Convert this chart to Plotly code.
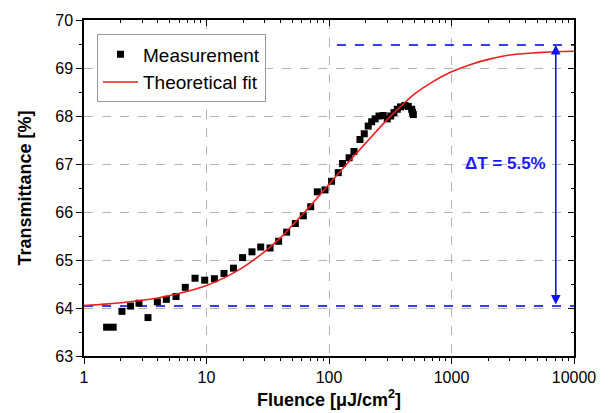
import math
import plotly.graph_objects as go

# Measured data (fluence in uJ/cm^2, transmittance in %)
meas_fluence = [1.53, 1.73, 2.04, 2.40, 2.81, 3.33, 3.97, 4.70, 5.64, 6.71, 8.06, 9.67,
                11.6, 13.9, 16.6, 19.7, 23.5, 27.7, 33.0, 38.8, 45.1, 53.1, 61.7, 70.9,
                80.3, 92.8, 105, 119, 129, 146, 160, 179, 194, 209, 223, 238, 256, 277,
                299, 319, 339, 361, 384, 417, 444, 473, 480, 488]
meas_trans = [63.60, 63.60, 63.93, 64.04, 64.10, 63.80, 64.13, 64.18, 64.24, 64.43, 64.62, 64.58,
              64.61, 64.72, 64.83, 65.05, 65.17, 65.27, 65.25, 65.39, 65.58, 65.76, 65.92, 66.11,
              66.42, 66.46, 66.64, 66.82, 67.01, 67.13, 67.26, 67.51, 67.63, 67.79, 67.88, 67.94, 68.00, 68.01,
              67.94, 68.00, 68.07, 68.14, 68.19, 68.22, 68.20, 68.14, 68.08, 68.03]

# Theoretical fit curve
fit_fluence = [1, 1.5, 2, 3, 4, 5, 7, 10, 15, 20, 30, 40, 50, 70, 100, 150, 200, 300, 400,
               500, 700, 1000, 1500, 2000, 3000, 5000, 7000, 10000]
fit_trans = [64.05, 64.08, 64.11, 64.16, 64.21, 64.26, 64.35, 64.47, 64.67, 64.85, 65.18, 65.46,
             65.72, 66.12, 66.58, 67.09, 67.44, 67.93, 68.24, 68.46, 68.71, 68.92, 69.09, 69.18,
             69.27, 69.32, 69.34, 69.35]

# Reference levels and annotation
upper_x = [116, 10000]
upper_y = [69.48, 69.48]
lower_x = [1, 10000]
lower_y = [64.04, 64.04]
arrow_x = 7100
delta_label = "ΔT = 5.5%"
label_x = 2735
label_y = 67.02

x_tickvals = [1, 10, 100, 1000, 10000]
x_ticktext = ["1", "10", "100", "1000", "10000"]
x_minor_vals = [m * 10 ** d for d in range(4) for m in range(2, 10)]
y_tickvals = [63, 64, 65, 66, 67, 68, 69, 70]

FONT = "Liberation Sans, Arial, sans-serif"
BLUE_DASH = "#3a3aff"
GRID = "#b4b4b4"

fig = go.Figure()

fig.add_trace(go.Scatter(x=upper_x, y=upper_y, mode="lines", showlegend=False,
                         line=dict(color=BLUE_DASH, width=2, dash="dash"), hoverinfo="skip"))
fig.add_trace(go.Scatter(x=lower_x, y=lower_y, mode="lines", showlegend=False,
                         line=dict(color=BLUE_DASH, width=2, dash="dash"), hoverinfo="skip"))

fig.add_trace(go.Scatter(x=meas_fluence, y=meas_trans, mode="markers", name="Measurement",
                         marker=dict(symbol="square", size=7, color="black")))
fig.add_trace(go.Scatter(x=fit_fluence, y=fit_trans, mode="lines", name="Theoretical fit",
                         line=dict(color="#ee1c1c", width=1.6, shape="spline", smoothing=1)))

# dummy trace for mirrored axes
fig.add_trace(go.Scatter(x=[1], y=[63], xaxis="x2", yaxis="y2", mode="markers",
                         marker=dict(opacity=0), showlegend=False, hoverinfo="skip"))

fig.add_annotation(x=math.log10(arrow_x), y=upper_y[0], ax=math.log10(arrow_x), ay=lower_y[0],
                   xref="x", yref="y", axref="x", ayref="y", text="", showarrow=True,
                   arrowhead=2, arrowside="end+start", arrowsize=1.2, arrowwidth=1.6,
                   arrowcolor="#1010ff", startarrowhead=2, startarrowsize=1.2)
fig.add_annotation(x=math.log10(label_x), y=label_y, xref="x", yref="y", text=f"<b>{delta_label}</b>",
                   showarrow=False, font=dict(family=FONT, size=17, color="#1a1aff"))

axis_common = dict(showline=True, linecolor="black", linewidth=1.5, zeroline=False, automargin=False)

fig.update_layout(
    width=601, height=405,
    margin=dict(l=76, r=35, t=12, b=57),
    paper_bgcolor="white", plot_bgcolor="white",
    font=dict(family=FONT, size=16, color="black"),
    xaxis=dict(type="log", range=[0, 4], tickvals=x_tickvals, ticktext=x_ticktext,
               ticks="outside", ticklen=6, tickwidth=1.2, tickcolor="black",
               minor=dict(ticks="outside", ticklen=3, tickcolor="black", tickvals=x_minor_vals,
                          showgrid=False),
               showgrid=True, gridcolor=GRID, griddash="dash", gridwidth=1,
               mirror=True,
               title=dict(text="<b>Fluence [μJ/cm<sup>2</sup>]</b>", font=dict(size=18), standoff=8),
               **axis_common),
    yaxis=dict(range=[63, 70], tickvals=y_tickvals, ticks="outside", ticklen=6, tickwidth=1.2,
               tickcolor="black",
               minor=dict(ticks="outside", ticklen=3, tickcolor="black", dtick=0.5, showgrid=False),
               showgrid=True, gridcolor=GRID, griddash="dash", gridwidth=1,
               mirror=True,
               title=dict(text="<b>Transmittance [%]</b>", font=dict(size=18), standoff=19),
               **axis_common),
    xaxis2=dict(type="log", range=[0, 4], overlaying="x", side="top", tickvals=x_tickvals,
                showticklabels=False, ticks="inside", ticklen=6, tickcolor="black",
                minor=dict(ticks="inside", ticklen=3, tickcolor="black", tickvals=x_minor_vals,
                           showgrid=False),
                showgrid=False, zeroline=False, showline=False, automargin=False),
    yaxis2=dict(range=[63, 70], overlaying="y", side="right", tickvals=y_tickvals,
                showticklabels=False, ticks="inside", ticklen=6, tickcolor="black",
                minor=dict(ticks="inside", ticklen=3, tickcolor="black", dtick=0.5, showgrid=False),
                showgrid=False, zeroline=False, showline=False, automargin=False),
    legend=dict(x=0.0265, y=0.957, xanchor="left", yanchor="top",
                bgcolor="white", bordercolor="#999999", borderwidth=1,
                font=dict(size=19), tracegroupgap=0, itemwidth=35),
    showlegend=True,
)

fig.write_html("out.html")
